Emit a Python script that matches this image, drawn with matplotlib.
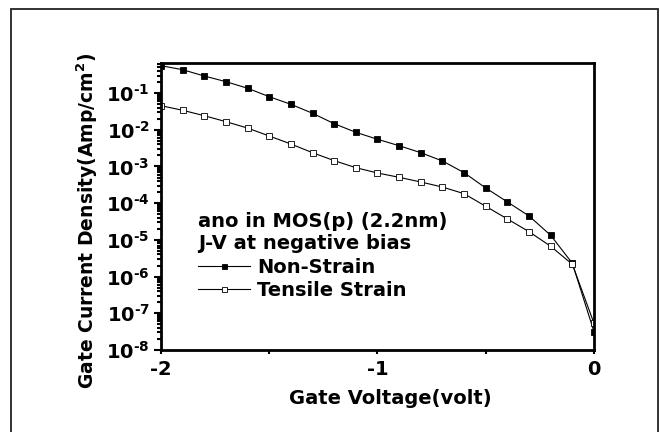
import math
import matplotlib
matplotlib.use('Agg')
import matplotlib.pyplot as plt
import matplotlib.ticker as ticker
from matplotlib.patches import Rectangle

# gate current density (Amp/cm^2) vs gate voltage, p-MOS at negative bias
plt.rcParams['font.family'] = 'DejaVu Sans'
plt.rcParams['font.weight'] = 'bold'
plt.rcParams['mathtext.fontset'] = 'custom'
plt.rcParams['mathtext.rm'] = 'DejaVu Sans:bold'
plt.rcParams['mathtext.bf'] = 'DejaVu Sans:bold'
plt.rcParams['mathtext.default'] = 'bf'

voltage = [-2.0, -1.9, -1.8, -1.7, -1.6, -1.5, -1.4, -1.3, -1.2, -1.1, -1.0,
           -0.9, -0.8, -0.7, -0.6, -0.5, -0.4, -0.3, -0.2, -0.1, 0.0]
non_strain = [0.556, 0.432, 0.291, 0.204, 0.135, 0.0794, 0.0493, 0.0281, 0.0146,
              0.00851, 0.0055, 0.00367, 0.00237, 0.00141, 6.76e-4, 2.59e-4,
              1.08e-4, 4.47e-5, 1.33e-5, 2.3e-6, 3.15e-8]
tensile = [0.0452, 0.0339, 0.0241, 0.0166, 0.0111, 0.00675, 0.00409, 0.00237,
           0.00144, 9.25e-4, 6.64e-4, 5.06e-4, 3.77e-4, 2.75e-4, 1.81e-4, 8.2e-5,
           3.71e-5, 1.67e-5, 6.68e-6, 2.16e-6, 5.33e-8]
x_ticks = [-2, -1, 0]
x_ticklabels = ['-2', '-1', '0']


def decade_label(v, pos):
    # "10" with a short hyphen in the exponent
    return '10$^{\u2010%d}$' % abs(round(math.log10(v)))


fig = plt.figure(figsize=(6.6, 4.32), dpi=100)

# outer frame around the whole figure
fig.patches.append(Rectangle((11/660, -0.05), 647/660, 1.05 - 9/432,
                             transform=fig.transFigure, fill=False,
                             edgecolor='#222222', linewidth=1.3))

ax = fig.add_axes([161/660, 82/432, 433/660, 287/432])

ax.plot(voltage, non_strain, color='black', linewidth=0.8, marker='s',
        markersize=4.5, markerfacecolor='black', markeredgecolor='black',
        markeredgewidth=0.6, label='Non-Strain')
ax.plot(voltage, tensile, color='black', linewidth=0.8, marker='s',
        markersize=4.5, markerfacecolor='white', markeredgecolor='black',
        markeredgewidth=0.6, label='Tensile Strain')

ax.set_yscale('log')
ax.set_xlim(-2, 0)
ax.set_ylim(1e-8, 0.658)

ax.xaxis.set_major_locator(ticker.FixedLocator(x_ticks))
ax.xaxis.set_minor_locator(ticker.FixedLocator([-1.5, -0.5]))
ax.xaxis.set_major_formatter(ticker.FixedFormatter(x_ticklabels))
ax.yaxis.set_major_locator(ticker.LogLocator(base=10, numticks=12))
ax.yaxis.set_minor_locator(ticker.LogLocator(base=10, subs=range(2, 10), numticks=12))
ax.yaxis.set_major_formatter(ticker.FuncFormatter(decade_label))

ax.tick_params(axis='both', which='both', direction='out', width=1.5)
ax.tick_params(axis='y', which='major', length=5, pad=3, labelsize=14)
ax.tick_params(axis='y', which='minor', length=3)
ax.tick_params(axis='x', which='both', length=3, pad=4, labelsize=14)
for s in ax.spines.values():
    s.set_linewidth(2)

ax.set_xlabel('Gate Voltage(volt)', fontsize=14, fontweight='bold')
ax.set_ylabel(r'Gate Current Density(Amp/cm$^{\mathbf{2}}$)', fontsize=13.5,
              fontweight='bold')
ax.xaxis.set_label_coords(0.529, -0.136)
ax.yaxis.set_label_coords(-0.141, 0.451)

leg = ax.legend(loc='upper left', bbox_to_anchor=(0.086, 0.48), frameon=False,
                title='ano in MOS(p) (2.2nm)\nJ-V at negative bias',
                alignment='left', fontsize=14, title_fontsize=14,
                handlelength=2.67, handletextpad=0.36, labelspacing=0.23,
                borderpad=0, borderaxespad=0, markerscale=0.8)
leg.get_title().set_fontweight('bold')
leg.get_title().set_linespacing(1.2)

fig.savefig('out.png', dpi=100)
